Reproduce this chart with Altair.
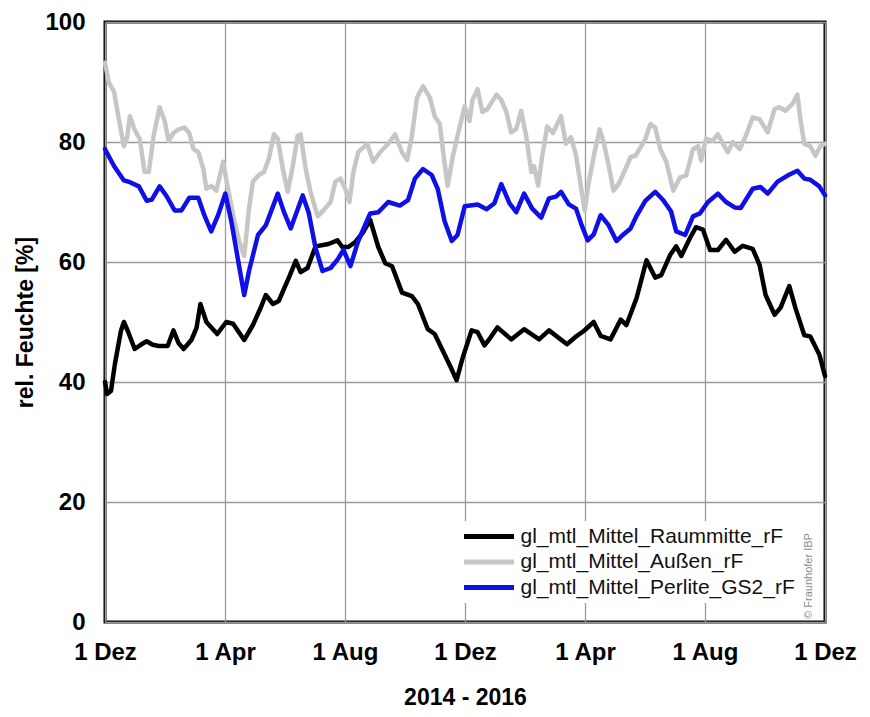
import altair as alt
import pandas as pd

# Series names (legend order)
series_names = [
    "gl_mtl_Mittel_Raummitte_rF",
    "gl_mtl_Mittel_Außen_rF",
    "gl_mtl_Mittel_Perlite_GS2_rF",
]
series_colors = ["#000000", "#c6c6c6", "#0f0fe8"]

# x = months since 1 Dez 2014
raum_x = [0, 0.07, 0.20, 0.33, 0.53, 0.63, 0.76, 0.99, 1.19, 1.39, 1.59, 1.79, 2.09, 2.28, 2.45, 2.62, 2.88, 3.05,
          3.18, 3.38, 3.74, 4.04, 4.27, 4.64, 4.93, 5.20, 5.36, 5.60, 5.79, 6.13, 6.36, 6.52, 6.75, 7.02, 7.45,
          7.75, 7.91, 8.11, 8.34, 8.61, 8.84, 9.11, 9.34, 9.57, 9.90, 10.23, 10.43, 10.76, 10.99, 11.32, 11.52,
          11.72, 11.92, 12.22, 12.42, 12.65, 12.85, 13.08, 13.54, 13.97, 14.47, 14.80, 15.40, 15.73, 15.96, 16.29,
          16.52, 16.85, 17.19, 17.38, 17.72, 18.05, 18.34, 18.54, 18.84, 19.04, 19.21, 19.50, 19.70, 19.93, 20.17,
          20.43, 20.70, 20.99, 21.26, 21.59, 21.82, 22.02, 22.32, 22.52, 22.81, 23.01, 23.31, 23.51, 23.81, 24.0]
raum_y = [40, 38, 38.5, 43, 48.5, 50, 48.5, 45.5, 46.2, 46.8, 46.2, 46, 46, 48.6, 46.5, 45.5, 47, 49, 53, 50, 48,
          50, 49.7, 47, 49.5, 52.5, 54.5, 53, 53.5, 57.4, 60.2, 58.3, 59, 62.6, 63, 63.6, 62.5, 62.5, 63.3, 65, 67,
          62.5, 59.8, 59.3, 54.9, 54.3, 53, 48.8, 48, 44.6, 42.5, 40.3, 44, 48.6, 48.3, 46.1, 47.4, 49.1, 47.1,
          48.8, 47.1, 48.6, 46.3, 47.7, 48.5, 50, 47.7, 47.1, 50.4, 49.5, 54, 60.3, 57.4, 57.8, 61.2, 62.6, 61, 64,
          65.8, 65.4, 62, 62, 63.7, 61.7, 62.7, 62.2, 59.5, 54.5, 51.2, 52.4, 56, 52.4, 47.8, 47.6, 44.6, 41]

aussen_x = [0, 0.13, 0.30, 0.46, 0.63, 0.73, 0.83, 0.99, 1.16, 1.32, 1.46, 1.62, 1.82, 1.99, 2.12, 2.28, 2.45, 2.65,
            2.81, 2.95, 3.11, 3.28, 3.38, 3.54, 3.71, 3.94, 4.07, 4.27, 4.47, 4.64, 4.80, 4.93, 5.13, 5.30, 5.46,
            5.63, 5.76, 5.93, 6.09, 6.26, 6.42, 6.52, 6.69, 6.85, 7.09, 7.28, 7.52, 7.68, 7.85, 8.01, 8.15, 8.28,
            8.44, 8.74, 8.94, 9.17, 9.44, 9.67, 9.90, 10.07, 10.23, 10.40, 10.60, 10.83, 10.99, 11.16, 11.26, 11.42,
            11.59, 11.75, 11.99, 12.15, 12.25, 12.42, 12.58, 12.75, 13.05, 13.21, 13.38, 13.54, 13.71, 13.87, 14.04,
            14.21, 14.30, 14.44, 14.57, 14.74, 14.93, 15.20, 15.36, 15.53, 15.70, 15.86, 15.99, 16.13, 16.32, 16.49,
            16.62, 16.79, 16.95, 17.12, 17.35, 17.52, 17.68, 17.85, 18.01, 18.18, 18.34, 18.51, 18.71, 18.94, 19.17,
            19.37, 19.60, 19.77, 19.87, 20.03, 20.26, 20.43, 20.60, 20.76, 20.93, 21.16, 21.36, 21.59, 21.82, 22.09,
            22.32, 22.48, 22.68, 22.91, 23.08, 23.18, 23.31, 23.51, 23.68, 23.84, 24.0]
aussen_y = [93.2, 89.9, 88.4, 83.8, 79.3, 80.5, 84.3, 82, 80.5, 75, 75, 81, 85.8, 83.5, 80.2, 81.5, 82.1, 82.4, 81.5,
            78.8, 78.3, 75.5, 72.2, 72.7, 71.9, 76.7, 73, 67.8, 63.5, 61, 68.9, 73.4, 74.5, 75, 77.2, 81.3, 80.5,
            75.5, 71.7, 76, 81, 81.3, 75.5, 71.7, 67.6, 68.6, 70, 73.4, 73.9, 72.2, 70, 75, 78.3, 79.7, 76.7, 78.3,
            79.7, 81.3, 78.3, 77, 81, 87.4, 89.3, 87.4, 84.3, 83, 78.8, 72.7, 77.5, 81, 86, 83.5, 87, 88.8, 85, 85.5,
            87.9, 87, 85, 81.6, 82.2, 85.2, 81, 75, 76, 72.7, 77.5, 82.6, 81.5, 84.3, 79.7, 80.8, 77.8, 72.7, 68.6,
            73.4, 78.3, 82.1, 80, 76.1, 71.9, 73, 75.5, 77.5, 77.7, 79.1, 80.5, 83, 82.4, 78.8, 76.7, 71.9, 74.1,
            74.4, 78.8, 79.3, 76.9, 80.5, 80.2, 81.3, 79.7, 78.3, 80, 78.8, 81, 84.1, 83.8, 81.6, 85.5, 85.8, 85.2,
            86.3, 87.9, 83.8, 79.7, 79.3, 77.7, 79.3, 79.7]

perlite_x = [0, 0.30, 0.63, 0.83, 1.13, 1.39, 1.56, 1.82, 2.05, 2.32, 2.55, 2.81, 3.11, 3.31, 3.54, 3.77, 4.01, 4.21,
             4.44, 4.64, 4.80, 5.10, 5.36, 5.76, 5.96, 6.19, 6.59, 6.79, 7.02, 7.25, 7.52, 7.75, 7.95, 8.18, 8.44,
             8.84, 9.11, 9.44, 9.83, 10.10, 10.33, 10.60, 10.89, 11.09, 11.32, 11.56, 11.75, 11.99, 12.42, 12.72,
             12.98, 13.21, 13.48, 13.71, 13.97, 14.24, 14.54, 14.80, 15.03, 15.20, 15.46, 15.70, 15.89, 16.09, 16.29,
             16.52, 16.79, 17.05, 17.28, 17.52, 17.72, 18.01, 18.34, 18.61, 18.87, 19.04, 19.34, 19.60, 19.83, 20.10,
             20.43, 20.70, 20.99, 21.19, 21.59, 21.85, 22.09, 22.42, 22.75, 23.08, 23.31, 23.51, 23.81, 24.0]
perlite_y = [78.8, 76, 73.6, 73.3, 72.6, 70.2, 70.4, 72.6, 71, 68.6, 68.6, 70.7, 70.7, 67.8, 65.1, 67.8, 71.4, 66.8,
             60.2, 54.5, 58.5, 64.5, 66.1, 71.4, 68.4, 65.6, 71.1, 68.2, 62.3, 58.5, 59, 60.4, 62, 59.3, 63.5, 68.1,
             68.3, 70, 69.4, 70.3, 73.9, 75.5, 74.5, 72.2, 66.8, 63.5, 64.5, 69.3, 69.6, 68.8, 69.8, 73, 69.8, 68.3,
             71.4, 68.9, 67.4, 70.6, 70.9, 71.7, 69.6, 68.9, 66.1, 63.6, 64.6, 67.8, 66.1, 63.5, 64.6, 65.6, 67.7,
             70.2, 71.7, 70.3, 68.4, 65.1, 64.5, 67.6, 68.1, 70, 71.4, 70, 69.1, 69, 72.2, 72.5, 71.4, 73.4, 74.4,
             75.2, 73.9, 73.7, 72.6, 71.1]

x_tick_values = [0, 4, 8, 12, 16, 20, 24]
x_tick_labels = ["1 Dez", "1 Apr", "1 Aug", "1 Dez", "1 Apr", "1 Aug", "1 Dez"]
y_tick_values = [0, 20, 40, 60, 80, 100]
copyright_text = "© Fraunhofer IBP"

frames = []
for name, xs, ys in [
    (series_names[0], raum_x, raum_y),
    (series_names[1], aussen_x, aussen_y),
    (series_names[2], perlite_x, perlite_y),
]:
    frames.append(pd.DataFrame({"month": xs, "value": ys, "series": name}))
df = pd.concat(frames, ignore_index=True)

FONT = "Liberation Sans"
W, H = 720, 600

label_expr = "[" + ",".join("'%s'" % l for l in x_tick_labels) + "][indexof(%s, datum.value)]" % str(x_tick_values)

x_enc = alt.X(
    "month:Q",
    scale=alt.Scale(domain=[0, 24], nice=False, zero=False),
    axis=alt.Axis(
        values=x_tick_values,
        labelExpr=label_expr,
        title="2014 - 2016",
        grid=True,
        ticks=False,
        domain=False,
        labelFlush=False,
        labelOverlap=False,
        labelPadding=18,
        titlePadding=22,
    ),
)
y_enc = alt.Y(
    "value:Q",
    scale=alt.Scale(domain=[0, 100], nice=False),
    axis=alt.Axis(
        values=y_tick_values,
        title="rel. Feuchte [%]",
        grid=True,
        ticks=False,
        domain=False,
        labelFlush=False,
        labelOverlap=False,
        labelPadding=20,
        titlePadding=7,
    ),
)
color_enc = alt.Color(
    "series:N",
    scale=alt.Scale(domain=series_names, range=series_colors),
    legend=alt.Legend(
        title=None,
        orient="none",
        legendX=354,
        legendY=499,
        symbolType="M-5,0H5",
        symbolSize=100,
        symbolStrokeWidth=5,
        symbolOffset=14.5,
        labelOffset=21,
        labelFontSize=21,
        labelFont=FONT,
        labelColor="#111111",
        labelLimit=500,
        rowPadding=3.5,
        padding=5,
        fillColor="white",
    ),
)

layers = []
for name in series_names:
    layers.append(
        alt.Chart(df)
        .transform_filter(alt.datum.series == name)
        .mark_line(strokeWidth=4.5, strokeJoin="round", strokeCap="round")
        .encode(x=x_enc, y=y_enc, color=color_enc)
    )

copyright_layer = (
    alt.Chart(pd.DataFrame({"t": [copyright_text]}))
    .mark_text(angle=270, fontSize=11, font=FONT, color="#8c8c8c", align="center", baseline="middle")
    .encode(x=alt.value(W - 16), y=alt.value(554), text="t:N")
)

chart = (
    alt.layer(*layers, copyright_layer)
    .properties(
        width=W,
        height=H,
        autosize=alt.AutoSizeParams(type="none"),
        padding={"left": 97, "top": 14, "right": 34, "bottom": 86},
    )
    .configure_view(stroke="black", strokeWidth=3)
    .configure_axis(
        labelFont=FONT,
        labelFontSize=24,
        labelFontWeight="bold",
        labelColor="black",
        titleFont=FONT,
        titleFontSize=23,
        titleFontWeight="bold",
        titleColor="black",
        gridColor="#9a9a9a",
        gridWidth=1.3,
        gridOpacity=1,
    )
)

chart.save("out.html", embed_options={"renderer": "svg", "actions": False})
